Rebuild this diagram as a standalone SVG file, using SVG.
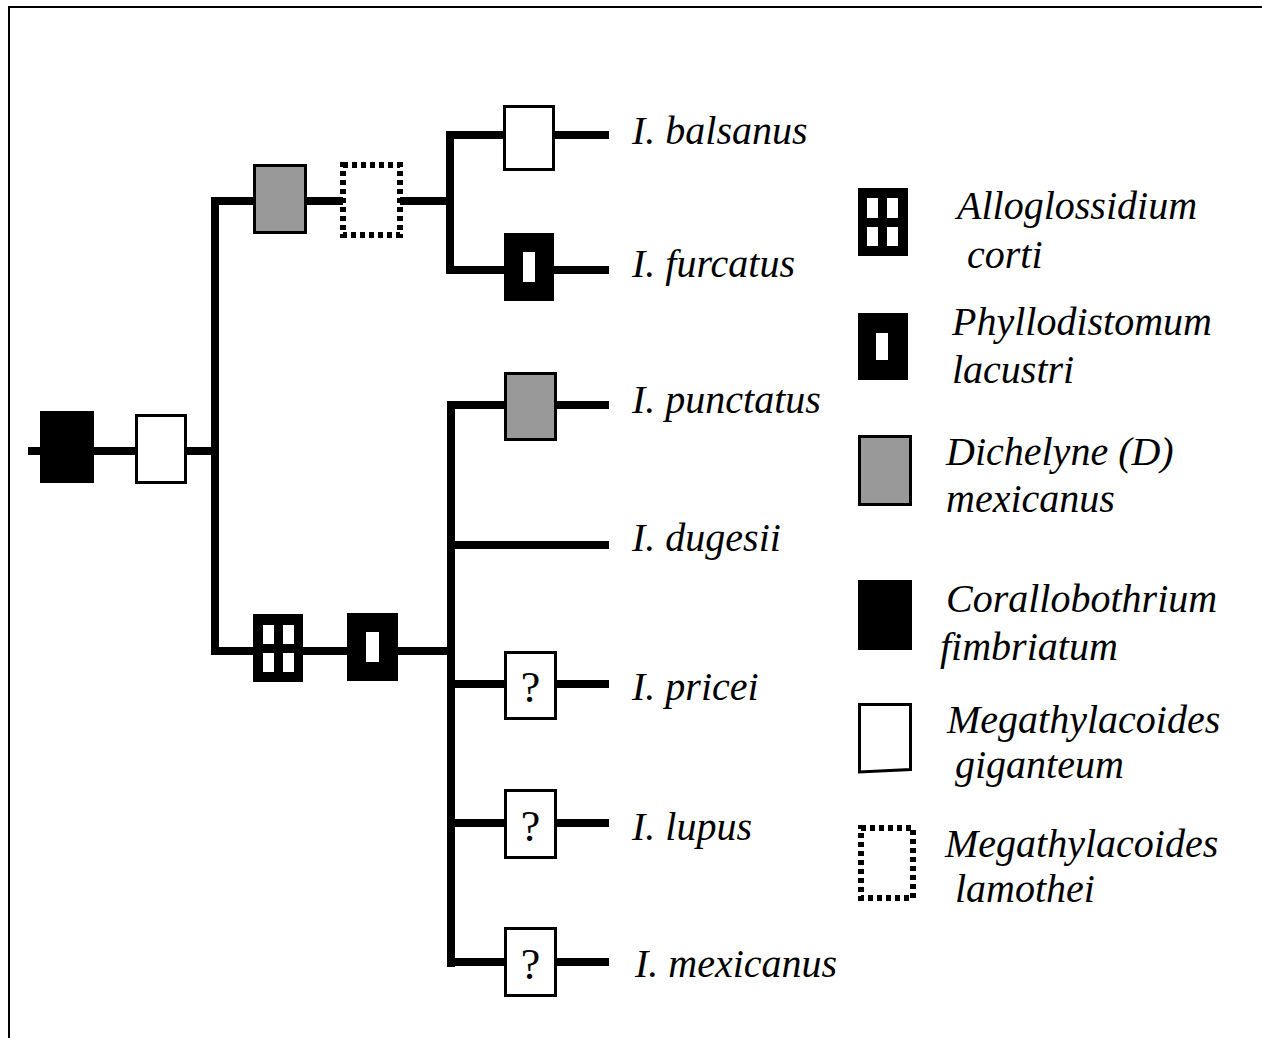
<svg xmlns="http://www.w3.org/2000/svg" width="1262" height="1038" viewBox="0 0 1262 1038">
<style>
.ln{stroke:#000;stroke-width:8;fill:none;stroke-linecap:butt}
.wb{fill:#fff;stroke:#000;stroke-width:3}
.gb{fill:#999;stroke:#000;stroke-width:3}
.bb{fill:#000}
.hole{fill:#fff}
.dot{fill:#fff;stroke:#000;stroke-width:6;stroke-dasharray:5 4}
.lbl{font-family:"Liberation Serif","Times New Roman",serif;font-style:italic;font-size:40px;fill:#000}
.q{font-family:"Liberation Serif","Times New Roman",serif;font-size:44px;fill:#000;text-anchor:middle}
</style>
<rect x="0" y="0" width="1262" height="1038" fill="#fff"/>
<g id="frame">
<line x1="8" y1="7" x2="1262" y2="7" stroke="#000" stroke-width="2"/>
<line x1="9" y1="6" x2="9" y2="1038" stroke="#000" stroke-width="2"/>
</g>
<g id="connectors">
<line class="ln" x1="28" y1="451" x2="215" y2="451"/>
<line class="ln" x1="215" y1="197" x2="215" y2="655"/>
<line class="ln" x1="211" y1="201" x2="450" y2="201"/>
<line class="ln" x1="450" y1="131" x2="450" y2="274"/>
<line class="ln" x1="446" y1="135" x2="609" y2="135"/>
<line class="ln" x1="446" y1="270" x2="609" y2="270"/>
<line class="ln" x1="211" y1="651" x2="451" y2="651"/>
<line class="ln" x1="451" y1="401" x2="451" y2="967"/>
<line class="ln" x1="447" y1="405" x2="609" y2="405"/>
<line class="ln" x1="447" y1="545" x2="609" y2="545"/>
<line class="ln" x1="447" y1="684" x2="609" y2="684"/>
<line class="ln" x1="447" y1="823" x2="609" y2="823"/>
<line class="ln" x1="447" y1="962" x2="609" y2="962"/>
</g>
<g id="root-black"><rect class="bb" x="40" y="411" width="54" height="72"/></g>
<g id="root-white"><rect class="wb" x="136.5" y="415.5" width="49" height="67"/></g>
<g id="top-gray"><rect class="gb" x="254.5" y="165.5" width="51" height="67"/></g>
<g id="top-dotted"><rect class="dot" x="343" y="165" width="57" height="70"/></g>
<g id="balsanus-white"><rect class="wb" x="504.5" y="106.5" width="49" height="63"/></g>
<g id="furcatus-slot"><rect class="bb" x="504" y="233" width="50" height="68"/><rect class="hole" x="523" y="252" width="12" height="30"/></g>
<g id="bottom-grid"><rect class="bb" x="253" y="614" width="50" height="68"/><rect class="hole" x="263" y="625" width="11" height="19"/><rect class="hole" x="283" y="625" width="11" height="19"/><rect class="hole" x="263" y="653" width="11" height="19"/><rect class="hole" x="283" y="653" width="11" height="19"/></g>
<g id="bottom-slot"><rect class="bb" x="347" y="613" width="51" height="68"/><rect class="hole" x="366" y="632" width="13" height="30"/></g>
<g id="punctatus-gray"><rect class="gb" x="505.5" y="373.5" width="50" height="66"/></g>
<g id="pricei-q"><rect class="wb" x="505.5" y="652.5" width="50" height="66"/><text class="q" x="530.5" y="702">?</text></g>
<g id="lupus-q"><rect class="wb" x="505.5" y="790.5" width="50" height="67"/><text class="q" x="530.5" y="841">?</text></g>
<g id="mexicanus-q"><rect class="wb" x="505.5" y="928.5" width="50" height="67"/><text class="q" x="530.5" y="979">?</text></g>
<g id="taxa">
<text class="lbl" x="632" y="144">I. balsanus</text>
<text class="lbl" x="632" y="277">I. furcatus</text>
<text class="lbl" x="632" y="413">I. punctatus</text>
<text class="lbl" x="632" y="551">I. dugesii</text>
<text class="lbl" x="632" y="700">I. pricei</text>
<text class="lbl" x="632" y="840">I. lupus</text>
<text class="lbl" x="635" y="977">I. mexicanus</text>
</g>
<g id="legend-alloglossidium"><rect class="bb" x="858" y="188" width="50" height="68"/><rect class="hole" x="867" y="198" width="11" height="20"/><rect class="hole" x="887" y="198" width="11" height="20"/><rect class="hole" x="867" y="227" width="11" height="19"/><rect class="hole" x="887" y="227" width="11" height="19"/>
<text class="lbl" x="957" y="219">Alloglossidium</text><text class="lbl" x="967" y="268">corti</text></g>
<g id="legend-phyllodistomum"><rect class="bb" x="858" y="313" width="50" height="67"/><rect class="hole" x="876" y="333" width="12" height="27"/>
<text class="lbl" x="952" y="335">Phyllodistomum</text><text class="lbl" x="952" y="383">lacustri</text></g>
<g id="legend-dichelyne"><rect class="gb" x="859.5" y="436.5" width="51" height="68"/>
<text class="lbl" x="946" y="465">Dichelyne (D)</text><text class="lbl" x="946" y="512">mexicanus</text></g>
<g id="legend-corallobothrium"><rect class="bb" x="858" y="580" width="54" height="70"/>
<text class="lbl" x="946" y="612">Corallobothrium</text><text class="lbl" x="940" y="660">fimbriatum</text></g>
<g id="legend-giganteum"><path d="M859.5 704.5 L910.5 704.5 L910.5 769.5 L859.5 772 Z" fill="#fff" stroke="#000" stroke-width="3"/>
<text class="lbl" x="947" y="733">Megathylacoides</text><text class="lbl" x="955" y="778">giganteum</text></g>
<g id="legend-lamothei"><rect class="dot" x="861" y="828" width="52" height="70"/>
<text class="lbl" x="945" y="857">Megathylacoides</text><text class="lbl" x="955" y="902">lamothei</text></g>
</svg>
